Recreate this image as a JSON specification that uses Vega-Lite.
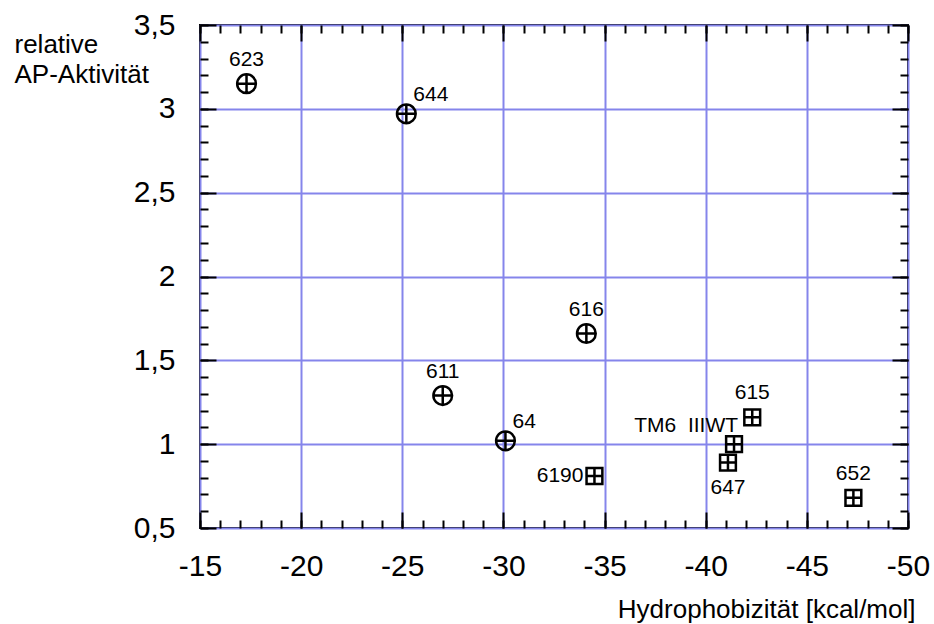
{
  "$schema": "https://vega.github.io/schema/vega-lite/v6.json",
  "width": 708,
  "height": 503,
  "autosize": "none",
  "padding": {"left": 200, "top": 25, "right": 26, "bottom": 96},
  "background": "white",
  "config": {
    "view": {"stroke": "black", "strokeWidth": 2},
    "font": "Liberation Sans",
    "text": {"font": "Liberation Sans", "fontSize": 21, "color": "black"},
    "axis": {
      "domain": false,
      "tickColor": "black",
      "tickWidth": 2,
      "labelColor": "black",
      "titleColor": "black",
      "labelFont": "Liberation Sans",
      "titleFont": "Liberation Sans",
      "gridColor": "#8585EB",
      "gridWidth": 2,
      "gridOpacity": 1,
      "labelFlush": false,
      "labelOverlap": false
    }
  },
  "data": {
    "values": [
      {"label": "623", "serie": "A", "x": -17.3, "y": 3.15},
      {"label": "644", "serie": "A", "x": -25.2, "y": 2.97},
      {"label": "616", "serie": "A", "x": -34.1, "y": 1.66},
      {"label": "611", "serie": "A", "x": -27.0, "y": 1.29},
      {"label": "64", "serie": "A", "x": -30.1, "y": 1.02},
      {"label": "6190", "serie": "B", "x": -34.5, "y": 0.81},
      {"label": "615", "serie": "B", "x": -42.3, "y": 1.16},
      {"label": "TM6\u00a0\u00a0IIIWT", "serie": "B", "x": -41.4, "y": 1.0},
      {"label": "647", "serie": "B", "x": -41.1, "y": 0.89},
      {"label": "652", "serie": "B", "x": -47.3, "y": 0.68}
    ]
  },
  "resolve": {"axis": {"x": "independent", "y": "independent"}},
  "layer": [
    {
      "mark": {"type": "point", "filled": false, "stroke": "black", "strokeWidth": 2.5, "opacity": 1},
      "encoding": {
        "x": {
          "field": "x", "type": "quantitative",
          "scale": {"domain": [-50, -15], "reverse": true, "nice": false, "zero": false},
          "axis": {
            "orient": "bottom",
            "values": [-15, -20, -25, -30, -35, -40, -45, -50],
            "format": "d",
            "labelExpr": "replace(datum.label, '\u2212', '-')",
            "grid": true,
            "tickSize": -16,
            "labelPadding": 63,
            "labelBaseline": "alphabetic",
            "labelFontSize": 30,
            "title": "Hydrophobizität [kcal/mol]",
            "titleFontSize": 26,
            "titleFontWeight": "normal",
            "titleX": 715,
            "titleY": 89,
            "titleAlign": "right",
            "titleAnchor": "end",
            "titleBaseline": "alphabetic"
          }
        },
        "y": {
          "field": "y", "type": "quantitative",
          "scale": {"domain": [0.5, 3.5], "nice": false, "zero": false},
          "axis": {
            "orient": "left",
            "values": [0.5, 1, 1.5, 2, 2.5, 3, 3.5],
            "format": "~g",
            "labelExpr": "replace(datum.label, '.', ',')",
            "grid": true,
            "tickSize": -16,
            "labelPadding": 41,
            "labelFontSize": 30,
            "labelBaseline": "middle",
            "title": ["relative", "AP-Aktivität"],
            "titleFontSize": 26,
            "titleFontWeight": "normal",
            "titleAngle": 0,
            "titleAlign": "left",
            "titleBaseline": "alphabetic",
            "titleLineHeight": 30,
            "titleX": -186,
            "titleY": 27
          }
        },
        "shape": {
          "field": "serie", "type": "nominal",
          "scale": {
            "domain": ["A", "B"],
            "range": [
              "M-1,0A1,1,0,1,1,1,0A1,1,0,1,1,-1,0ZM-1,0L1,0M0,-1L0,1",
              "M-1,-1L1,-1L1,1L-1,1ZM-1,0L1,0M0,-1L0,1"
            ]
          },
          "legend": null
        },
        "size": {
          "field": "serie", "type": "nominal",
          "scale": {"domain": ["A", "B"], "range": [350, 250]},
          "legend": null
        }
      }
    },
    {
      "transform": [{"filter": {"field": "label", "oneOf": ["623", "616", "611", "615", "652"]}}],
      "mark": {"type": "text", "align": "center", "baseline": "alphabetic", "dy": -18, "fontSize": 21},
      "encoding": {
        "x": {
          "field": "x", "type": "quantitative",
          "axis": {
            "orient": "bottom",
            "values": [-15, -16, -17, -18, -19, -20, -21, -22, -23, -24, -25, -26, -27, -28, -29, -30, -31, -32, -33, -34, -35, -36, -37, -38, -39, -40, -41, -42, -43, -44, -45, -46, -47, -48, -49, -50],
            "labels": false, "grid": false, "tickSize": -8, "title": null
          }
        },
        "y": {
          "field": "y", "type": "quantitative",
          "axis": {
            "orient": "left",
            "values": [0.5, 0.6, 0.7, 0.8, 0.9, 1.0, 1.1, 1.2, 1.3, 1.4, 1.5, 1.6, 1.7, 1.8, 1.9, 2.0, 2.1, 2.2, 2.3, 2.4, 2.5, 2.6, 2.7, 2.8, 2.9, 3.0, 3.1, 3.2, 3.3, 3.4, 3.5],
            "labels": false, "grid": false, "tickSize": -8, "title": null
          }
        },
        "text": {"field": "label"}
      }
    },
    {
      "transform": [{"filter": {"field": "label", "oneOf": ["644", "64"]}}],
      "mark": {"type": "text", "align": "left", "baseline": "alphabetic", "dx": 7, "dy": -13, "fontSize": 21},
      "encoding": {
        "x": {
          "field": "x", "type": "quantitative",
          "axis": {
            "orient": "top",
            "values": [-15, -20, -25, -30, -35, -40, -45, -50],
            "labels": false, "grid": false, "tickSize": -16, "title": null
          }
        },
        "y": {
          "field": "y", "type": "quantitative",
          "axis": {
            "orient": "right",
            "values": [0.5, 1, 1.5, 2, 2.5, 3, 3.5],
            "labels": false, "grid": false, "tickSize": -16, "title": null
          }
        },
        "text": {"field": "label"}
      }
    },
    {
      "transform": [{"filter": {"field": "label", "oneOf": ["6190"]}}],
      "mark": {"type": "text", "align": "right", "baseline": "middle", "dx": -11, "fontSize": 21},
      "encoding": {
        "x": {
          "field": "x", "type": "quantitative",
          "axis": {
            "orient": "top",
            "values": [-15, -16, -17, -18, -19, -20, -21, -22, -23, -24, -25, -26, -27, -28, -29, -30, -31, -32, -33, -34, -35, -36, -37, -38, -39, -40, -41, -42, -43, -44, -45, -46, -47, -48, -49, -50],
            "labels": false, "grid": false, "tickSize": -8, "title": null
          }
        },
        "y": {
          "field": "y", "type": "quantitative",
          "axis": {
            "orient": "right",
            "values": [0.5, 0.6, 0.7, 0.8, 0.9, 1.0, 1.1, 1.2, 1.3, 1.4, 1.5, 1.6, 1.7, 1.8, 1.9, 2.0, 2.1, 2.2, 2.3, 2.4, 2.5, 2.6, 2.7, 2.8, 2.9, 3.0, 3.1, 3.2, 3.3, 3.4, 3.5],
            "labels": false, "grid": false, "tickSize": -8, "title": null
          }
        },
        "text": {"field": "label"}
      }
    },
    {
      "transform": [{"filter": {"field": "label", "oneOf": ["TM6\u00a0\u00a0IIIWT"]}}],
      "mark": {"type": "text", "align": "right", "baseline": "alphabetic", "dx": 4, "dy": -12, "fontSize": 21},
      "encoding": {
        "x": {"field": "x", "type": "quantitative", "axis": null},
        "y": {"field": "y", "type": "quantitative", "axis": null},
        "text": {"field": "label"}
      }
    },
    {
      "transform": [{"filter": {"field": "label", "oneOf": ["647"]}}],
      "mark": {"type": "text", "align": "center", "baseline": "alphabetic", "dy": 31, "fontSize": 21},
      "encoding": {
        "x": {"field": "x", "type": "quantitative", "axis": null},
        "y": {"field": "y", "type": "quantitative", "axis": null},
        "text": {"field": "label"}
      }
    }
  ]
}
